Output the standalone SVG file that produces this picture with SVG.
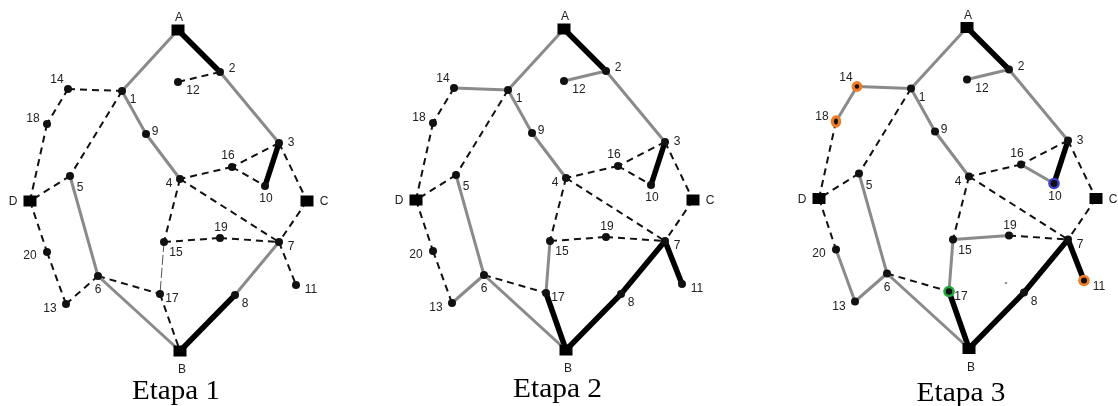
<svg xmlns="http://www.w3.org/2000/svg" width="1118" height="406" viewBox="0 0 1118 406" style="will-change: transform">
  <style>
    .g { stroke: #8a8a8a; stroke-width: 3; fill: none; }
    .k { stroke: #000; stroke-width: 5.5; fill: none; }
    .d { stroke: #111; stroke-width: 2; stroke-dasharray: 7 5; fill: none; }
    .t { stroke: #555; stroke-width: 1; stroke-dasharray: 10 3; fill: none; }
    .n { fill: #111; }
    .sq { fill: #000; }
    .lb { font-family: "Liberation Sans", Arial, sans-serif; font-size: 12px; fill: #222; text-anchor: middle; }
    .cap { font-family: "Liberation Serif", "Times New Roman", serif; font-size: 27px; fill: #000; text-anchor: middle; }
    .ro { fill: #f07c28; }
    .rb { fill: #3d3dd2; }
    .rg { fill: #22a83e; }
  </style>
  <rect width="1118" height="406" fill="#fff"/>

  <!-- ===================== Etapa 1 ===================== -->
  <g id="etapa1">
    <g id="e1-connectors">
      <line class="k" x1="178" y1="30" x2="220" y2="72"/>
      <line class="g" x1="220" y1="72" x2="279" y2="143"/>
      <line class="g" x1="178" y1="30" x2="122" y2="91"/>
      <line class="d" x1="220" y1="72" x2="178" y2="82"/>
      <line class="d" x1="68" y1="89" x2="122" y2="91"/>
      <line class="d" x1="68" y1="89" x2="47" y2="124"/>
      <line class="d" x1="47" y1="124" x2="30" y2="201"/>
      <line class="d" x1="122" y1="91" x2="70" y2="176"/>
      <line class="d" x1="70" y1="176" x2="30" y2="201"/>
      <line class="g" x1="122" y1="91" x2="146" y2="134"/>
      <line class="g" x1="146" y1="134" x2="180" y2="179"/>
      <line class="g" x1="70" y1="176" x2="98" y2="276"/>
      <line class="k" x1="279" y1="143" x2="265" y2="186"/>
      <line class="d" x1="279" y1="143" x2="232" y2="167"/>
      <line class="d" x1="232" y1="167" x2="180" y2="179"/>
      <line class="d" x1="232" y1="167" x2="265" y2="186"/>
      <line class="d" x1="279" y1="143" x2="307" y2="201"/>
      <line class="d" x1="180" y1="179" x2="279" y2="242"/>
      <line class="d" x1="180" y1="179" x2="164" y2="242"/>
      <line class="d" x1="164" y1="242" x2="220" y2="238"/>
      <line class="d" x1="220" y1="238" x2="279" y2="242"/>
      <line class="d" x1="307" y1="201" x2="279" y2="242"/>
      <line class="d" x1="279" y1="242" x2="296" y2="285"/>
      <line class="g" x1="279" y1="242" x2="235" y2="295"/>
      <line class="k" x1="235" y1="295" x2="180" y2="351"/>
      <line class="t" x1="164" y1="242" x2="160" y2="294"/>
      <line class="d" x1="160" y1="294" x2="180" y2="351"/>
      <line class="d" x1="98" y1="276" x2="160" y2="294"/>
      <line class="g" x1="98" y1="276" x2="180" y2="351"/>
      <line class="d" x1="30" y1="201" x2="47" y2="252"/>
      <line class="d" x1="47" y1="252" x2="66" y2="304"/>
      <line class="d" x1="66" y1="304" x2="98" y2="276"/>
    </g>
    <g id="e1-A"><rect class="sq" x="171.5" y="24.5" width="13" height="11"/><text class="lb" x="179" y="21">A</text></g>
    <g id="e1-B"><rect class="sq" x="173.5" y="345.5" width="13" height="11"/><text class="lb" x="182" y="373">B</text></g>
    <g id="e1-C"><rect class="sq" x="300.5" y="195.5" width="13" height="11"/><text class="lb" x="324" y="205">C</text></g>
    <g id="e1-D"><rect class="sq" x="23.5" y="195.5" width="13" height="11"/><text class="lb" x="13" y="205">D</text></g>
    <g id="e1-n1"><circle class="n" cx="122" cy="91" r="4"/><text class="lb" x="133" y="103">1</text></g>
    <g id="e1-n2"><circle class="n" cx="220" cy="72" r="4"/><text class="lb" x="232" y="72">2</text></g>
    <g id="e1-n3"><circle class="n" cx="279" cy="143" r="4"/><text class="lb" x="291" y="146">3</text></g>
    <g id="e1-n4"><circle class="n" cx="180" cy="179" r="4"/><text class="lb" x="169" y="187">4</text></g>
    <g id="e1-n5"><circle class="n" cx="70" cy="176" r="4"/><text class="lb" x="80" y="191">5</text></g>
    <g id="e1-n6"><circle class="n" cx="98" cy="276" r="4"/><text class="lb" x="98" y="293">6</text></g>
    <g id="e1-n7"><circle class="n" cx="279" cy="242" r="4"/><text class="lb" x="291" y="250">7</text></g>
    <g id="e1-n8"><circle class="n" cx="235" cy="295" r="4"/><text class="lb" x="245" y="307">8</text></g>
    <g id="e1-n9"><circle class="n" cx="146" cy="134" r="4"/><text class="lb" x="155" y="135">9</text></g>
    <g id="e1-n10"><circle class="n" cx="265" cy="186" r="4"/><text class="lb" x="266" y="202">10</text></g>
    <g id="e1-n11"><circle class="n" cx="296" cy="285" r="4"/><text class="lb" x="311" y="293">11</text></g>
    <g id="e1-n12"><circle class="n" cx="178" cy="82" r="4"/><text class="lb" x="193" y="94">12</text></g>
    <g id="e1-n13"><circle class="n" cx="66" cy="304" r="4"/><text class="lb" x="50" y="312">13</text></g>
    <g id="e1-n14"><circle class="n" cx="68" cy="89" r="4"/><text class="lb" x="57" y="83">14</text></g>
    <g id="e1-n15"><circle class="n" cx="164" cy="242" r="4"/><text class="lb" x="176" y="256">15</text></g>
    <g id="e1-n16"><circle class="n" cx="232" cy="167" r="4"/><text class="lb" x="228" y="159">16</text></g>
    <g id="e1-n17"><circle class="n" cx="160" cy="294" r="4"/><text class="lb" x="172" y="302">17</text></g>
    <g id="e1-n18"><circle class="n" cx="47" cy="124" r="4"/><text class="lb" x="33" y="122">18</text></g>
    <g id="e1-n19"><circle class="n" cx="220" cy="238" r="4"/><text class="lb" x="221" y="231">19</text></g>
    <g id="e1-n20"><circle class="n" cx="47" cy="252" r="4"/><text class="lb" x="30" y="259">20</text></g>
    <text class="cap" x="176" y="399" textLength="88" lengthAdjust="spacingAndGlyphs">Etapa 1</text>
  </g>

  <!-- ===================== Etapa 2 ===================== -->
  <g id="etapa2" transform="translate(386,-1)">
    <g id="e2-connectors">
      <line class="k" x1="178" y1="30" x2="220" y2="72"/>
      <line class="g" x1="220" y1="72" x2="279" y2="143"/>
      <line class="g" x1="178" y1="30" x2="122" y2="91"/>
      <line class="g" x1="220" y1="72" x2="178" y2="82"/>
      <line class="g" x1="68" y1="89" x2="122" y2="91"/>
      <line class="d" x1="68" y1="89" x2="47" y2="124"/>
      <line class="d" x1="47" y1="124" x2="30" y2="201"/>
      <line class="d" x1="122" y1="91" x2="70" y2="176"/>
      <line class="d" x1="70" y1="176" x2="30" y2="201"/>
      <line class="g" x1="122" y1="91" x2="146" y2="134"/>
      <line class="g" x1="146" y1="134" x2="180" y2="179"/>
      <line class="g" x1="70" y1="176" x2="98" y2="276"/>
      <line class="k" x1="279" y1="143" x2="265" y2="186"/>
      <line class="d" x1="279" y1="143" x2="232" y2="167"/>
      <line class="d" x1="232" y1="167" x2="180" y2="179"/>
      <line class="d" x1="232" y1="167" x2="265" y2="186"/>
      <line class="d" x1="279" y1="143" x2="307" y2="201"/>
      <line class="d" x1="180" y1="179" x2="279" y2="242"/>
      <line class="d" x1="180" y1="179" x2="164" y2="242"/>
      <line class="d" x1="164" y1="242" x2="220" y2="238"/>
      <line class="d" x1="220" y1="238" x2="279" y2="242"/>
      <line class="d" x1="307" y1="201" x2="279" y2="242"/>
      <line class="k" x1="279" y1="242" x2="296" y2="285"/>
      <line class="k" x1="279" y1="242" x2="235" y2="295"/>
      <line class="k" x1="235" y1="295" x2="180" y2="351"/>
      <line class="g" x1="164" y1="242" x2="160" y2="294"/>
      <line class="k" x1="160" y1="294" x2="180" y2="351"/>
      <line class="d" x1="98" y1="276" x2="160" y2="294"/>
      <line class="g" x1="98" y1="276" x2="180" y2="351"/>
      <line class="d" x1="30" y1="201" x2="47" y2="252"/>
      <line class="d" x1="47" y1="252" x2="66" y2="304"/>
      <line class="g" x1="66" y1="304" x2="98" y2="276"/>
    </g>
    <g id="e2-A"><rect class="sq" x="171.5" y="24.5" width="13" height="11"/><text class="lb" x="179" y="21">A</text></g>
    <g id="e2-B"><rect class="sq" x="173.5" y="345.5" width="13" height="11"/><text class="lb" x="182" y="373">B</text></g>
    <g id="e2-C"><rect class="sq" x="300.5" y="195.5" width="13" height="11"/><text class="lb" x="324" y="205">C</text></g>
    <g id="e2-D"><rect class="sq" x="23.5" y="195.5" width="13" height="11"/><text class="lb" x="13" y="205">D</text></g>
    <g id="e2-n1"><circle class="n" cx="122" cy="91" r="4"/><text class="lb" x="133" y="103">1</text></g>
    <g id="e2-n2"><circle class="n" cx="220" cy="72" r="4"/><text class="lb" x="232" y="72">2</text></g>
    <g id="e2-n3"><circle class="n" cx="279" cy="143" r="4"/><text class="lb" x="291" y="146">3</text></g>
    <g id="e2-n4"><circle class="n" cx="180" cy="179" r="4"/><text class="lb" x="169" y="187">4</text></g>
    <g id="e2-n5"><circle class="n" cx="70" cy="176" r="4"/><text class="lb" x="80" y="191">5</text></g>
    <g id="e2-n6"><circle class="n" cx="98" cy="276" r="4"/><text class="lb" x="98" y="293">6</text></g>
    <g id="e2-n7"><circle class="n" cx="279" cy="242" r="4"/><text class="lb" x="291" y="250">7</text></g>
    <g id="e2-n8"><circle class="n" cx="235" cy="295" r="4"/><text class="lb" x="245" y="307">8</text></g>
    <g id="e2-n9"><circle class="n" cx="146" cy="134" r="4"/><text class="lb" x="155" y="135">9</text></g>
    <g id="e2-n10"><circle class="n" cx="265" cy="186" r="4"/><text class="lb" x="266" y="202">10</text></g>
    <g id="e2-n11"><circle class="n" cx="296" cy="285" r="4"/><text class="lb" x="311" y="293">11</text></g>
    <g id="e2-n12"><circle class="n" cx="178" cy="82" r="4"/><text class="lb" x="193" y="94">12</text></g>
    <g id="e2-n13"><circle class="n" cx="66" cy="304" r="4"/><text class="lb" x="50" y="312">13</text></g>
    <g id="e2-n14"><circle class="n" cx="68" cy="89" r="4"/><text class="lb" x="57" y="83">14</text></g>
    <g id="e2-n15"><circle class="n" cx="164" cy="242" r="4"/><text class="lb" x="176" y="256">15</text></g>
    <g id="e2-n16"><circle class="n" cx="232" cy="167" r="4"/><text class="lb" x="228" y="159">16</text></g>
    <g id="e2-n17"><circle class="n" cx="160" cy="294" r="4"/><text class="lb" x="172" y="302">17</text></g>
    <g id="e2-n18"><circle class="n" cx="47" cy="124" r="4"/><text class="lb" x="33" y="122">18</text></g>
    <g id="e2-n19"><circle class="n" cx="220" cy="238" r="4"/><text class="lb" x="221" y="231">19</text></g>
    <g id="e2-n20"><circle class="n" cx="47" cy="252" r="4"/><text class="lb" x="30" y="259">20</text></g>
    <text class="cap" x="171.5" y="398" textLength="89" lengthAdjust="spacingAndGlyphs">Etapa 2</text>
  </g>

  <!-- ===================== Etapa 3 ===================== -->
  <g id="etapa3" transform="translate(789,-2.5)">
    <g id="e3-connectors">
      <line class="k" x1="178" y1="30" x2="220" y2="72"/>
      <line class="g" x1="220" y1="72" x2="279" y2="143"/>
      <line class="g" x1="178" y1="30" x2="122" y2="91"/>
      <line class="g" x1="220" y1="72" x2="178" y2="82"/>
      <line class="g" x1="68" y1="89" x2="122" y2="91"/>
      <line class="g" x1="68" y1="89" x2="47" y2="124"/>
      <line class="d" x1="47" y1="124" x2="30" y2="201"/>
      <line class="d" x1="122" y1="91" x2="70" y2="176"/>
      <line class="d" x1="70" y1="176" x2="30" y2="201"/>
      <line class="g" x1="122" y1="91" x2="146" y2="134"/>
      <line class="g" x1="146" y1="134" x2="180" y2="179"/>
      <line class="g" x1="70" y1="176" x2="98" y2="276"/>
      <line class="k" x1="279" y1="143" x2="265" y2="186"/>
      <line class="d" x1="279" y1="143" x2="232" y2="167"/>
      <line class="d" x1="232" y1="167" x2="180" y2="179"/>
      <line class="g" x1="232" y1="167" x2="265" y2="186"/>
      <line class="d" x1="279" y1="143" x2="307" y2="201"/>
      <line class="d" x1="180" y1="179" x2="279" y2="242"/>
      <line class="d" x1="180" y1="179" x2="164" y2="242"/>
      <line class="g" x1="164" y1="242" x2="220" y2="238"/>
      <line class="d" x1="220" y1="238" x2="279" y2="242"/>
      <line class="d" x1="307" y1="201" x2="279" y2="242"/>
      <line class="k" x1="279" y1="242" x2="295" y2="283"/>
      <line class="k" x1="279" y1="242" x2="235" y2="295"/>
      <line class="k" x1="235" y1="295" x2="180" y2="351"/>
      <line class="g" x1="164" y1="242" x2="160" y2="294"/>
      <line class="k" x1="160" y1="294" x2="180" y2="351"/>
      <line class="d" x1="98" y1="276" x2="160" y2="294"/>
      <line class="g" x1="98" y1="276" x2="180" y2="351"/>
      <line class="d" x1="30" y1="201" x2="47" y2="252"/>
      <line class="g" x1="47" y1="252" x2="66" y2="304"/>
      <line class="g" x1="66" y1="304" x2="98" y2="276"/>
    </g>
    <g id="e3-A"><rect class="sq" x="171.5" y="24.5" width="13" height="11"/><text class="lb" x="179" y="21">A</text></g>
    <g id="e3-B"><rect class="sq" x="173.5" y="345.5" width="13" height="11"/><text class="lb" x="182" y="373">B</text></g>
    <g id="e3-C"><rect class="sq" x="300.5" y="195.5" width="13" height="11"/><text class="lb" x="324" y="205">C</text></g>
    <g id="e3-D"><rect class="sq" x="23.5" y="195.5" width="13" height="11"/><text class="lb" x="13" y="205">D</text></g>
    <g id="e3-n1"><circle class="n" cx="122" cy="91" r="4"/><text class="lb" x="133" y="103">1</text></g>
    <g id="e3-n2"><circle class="n" cx="220" cy="72" r="4"/><text class="lb" x="232" y="72">2</text></g>
    <g id="e3-n3"><circle class="n" cx="279" cy="143" r="4"/><text class="lb" x="291" y="146">3</text></g>
    <g id="e3-n4"><circle class="n" cx="180" cy="179" r="4"/><text class="lb" x="169" y="187">4</text></g>
    <g id="e3-n5"><circle class="n" cx="70" cy="176" r="4"/><text class="lb" x="80" y="191">5</text></g>
    <g id="e3-n6"><circle class="n" cx="98" cy="276" r="4"/><text class="lb" x="98" y="293">6</text></g>
    <g id="e3-n7"><circle class="n" cx="279" cy="242" r="4"/><text class="lb" x="291" y="250">7</text></g>
    <g id="e3-n8"><circle class="n" cx="235" cy="295" r="4"/><text class="lb" x="245" y="307">8</text></g>
    <g id="e3-n9"><circle class="n" cx="146" cy="134" r="4"/><text class="lb" x="155" y="135">9</text></g>
    <g id="e3-n10"><circle class="rb" cx="265" cy="186" r="5.8"/><circle class="n" cx="265" cy="186" r="3.4"/><text class="lb" x="266" y="202">10</text></g>
    <g id="e3-n11"><circle class="ro" cx="295" cy="283" r="5.8"/><circle class="n" cx="295" cy="283" r="3"/><text class="lb" x="310" y="292">11</text></g>
    <g id="e3-n12"><circle class="n" cx="178" cy="82" r="4"/><text class="lb" x="193" y="94">12</text></g>
    <g id="e3-n13"><circle class="n" cx="66" cy="304" r="4"/><text class="lb" x="50" y="312">13</text></g>
    <g id="e3-n14"><circle class="ro" cx="68" cy="89" r="5.4"/><circle class="n" cx="68" cy="89" r="2.2"/><text class="lb" x="57" y="83">14</text></g>
    <g id="e3-n15"><circle class="n" cx="164" cy="242" r="4"/><text class="lb" x="176" y="256">15</text></g>
    <g id="e3-n16"><circle class="n" cx="232" cy="167" r="4"/><text class="lb" x="228" y="159">16</text></g>
    <g id="e3-n17"><circle class="rg" cx="160" cy="294" r="5.8"/><circle class="n" cx="160" cy="294" r="3.2"/><text class="lb" x="172" y="302">17</text></g>
    <g id="e3-n18"><ellipse class="ro" cx="47" cy="124" rx="5.2" ry="6.2"/><ellipse class="n" cx="47" cy="124" rx="2" ry="3"/><text class="lb" x="33" y="122">18</text></g>
    <g id="e3-n19"><circle class="n" cx="220" cy="238" r="4"/><text class="lb" x="221" y="231">19</text></g>
    <g id="e3-n20"><circle class="n" cx="47" cy="252" r="4"/><text class="lb" x="30" y="259">20</text></g>
    <circle cx="217" cy="285.5" r="1.3" fill="#999"/>
    <text class="cap" x="172" y="403.5" textLength="89" lengthAdjust="spacingAndGlyphs">Etapa 3</text>
  </g>
</svg>
